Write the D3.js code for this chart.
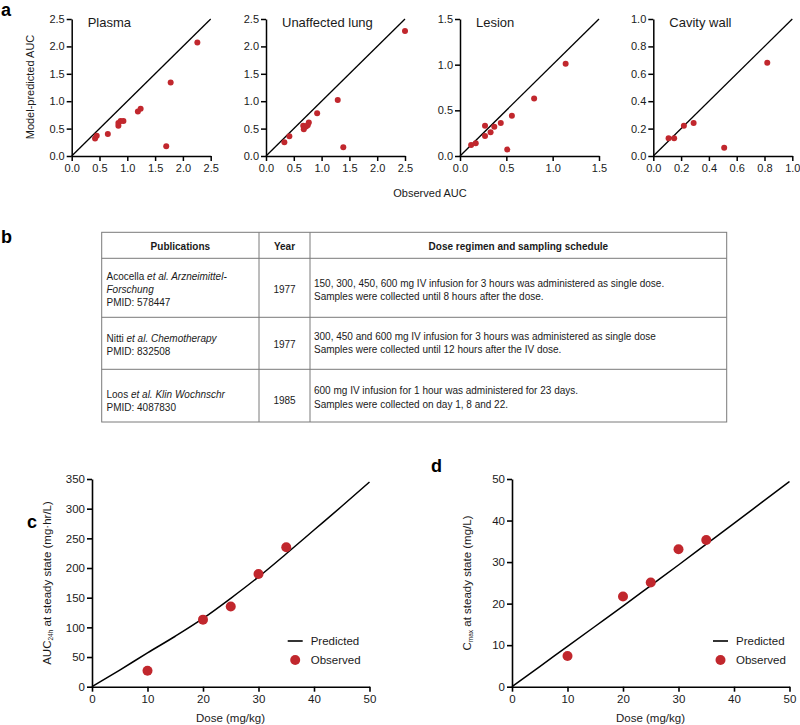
<!DOCTYPE html>
<html><head><meta charset="utf-8">
<script src="https://cdn.jsdelivr.net/npm/d3@7/dist/d3.min.js"></script>
<style>
body{margin:0;background:#fff;}
svg{display:block;font-family:"Liberation Sans",Arial,sans-serif;}
</style></head>
<body>
<svg id="fig" width="800" height="725"></svg>
<script>
// ---------- DATA ----------
const aTitles = ["Plasma", "Unaffected lung", "Lesion", "Cavity wall"];
const aMax = [2.5, 2.5, 1.5, 1.0];
const aTicks = [[0,0.5,1,1.5,2,2.5],[0,0.5,1,1.5,2,2.5],[0,0.5,1,1.5],[0,0.2,0.4,0.6,0.8,1.0]];
const plasmaObs  = [0.42,0.45,0.65,0.84,0.84,0.88,0.93,1.19,1.24,1.78,2.26,1.70];
const plasmaPred = [0.32,0.37,0.40,0.55,0.60,0.64,0.64,0.81,0.86,1.34,2.07,0.18];
const lungObs  = [0.33,0.42,0.67,0.68,0.72,0.75,0.77,0.92,1.29,1.39,2.50];
const lungPred = [0.25,0.36,0.55,0.49,0.54,0.56,0.61,0.78,1.02,0.16,2.28];
const lesionObs  = [0.12,0.17,0.27,0.27,0.33,0.37,0.44,0.56,0.51,0.80,1.14];
const lesionPred = [0.12,0.14,0.33,0.22,0.26,0.32,0.36,0.44,0.07,0.63,1.01];
const cavityObs  = [0.11,0.15,0.22,0.29,0.51,0.82];
const cavityPred = [0.13,0.13,0.22,0.24,0.06,0.68];

const tableHeaders = ["Publications", "Year", "Dose regimen and sampling schedule"];
const tableYears = ["1977", "1977", "1985"];
const tablePubs = [
  [[["Acocella ", false], ["et al. Arzneimittel-", true]], [["Forschung", true]], [["PMID: 578447", false]]],
  [[["Nitti ", false], ["et al. Chemotherapy", true]], [["PMID: 832508", false]]],
  [[["Loos ", false], ["et al. Klin Wochnschr", true]], [["PMID: 4087830", false]]]
];
const tableDose = [
  ["150, 300, 450, 600 mg IV infusion for 3 hours was administered as single dose.", "Samples were collected until 8 hours after the dose."],
  ["300, 450 and 600 mg IV infusion for 3 hours was administered as single dose", "Samples were collected until 12 hours after the IV dose."],
  ["600 mg IV infusion for 1 hour was administered for 23 days.", "Samples were collected on day 1, 8 and 22."]
];

const doseObs = [10, 20, 25, 30, 35];
const aucObs = [27, 113, 135, 190, 235];
const cmaxObs = [7.4, 21.7, 25.1, 33.1, 35.3];
const dosePred = [0, 5, 10, 15, 20, 25, 30, 35, 40, 45, 50];
const aucPred = [0, 28, 57, 85, 115, 149, 185, 224, 264, 304, 345];
const cmaxPred = [0, 4.85, 9.7, 14.55, 19.4, 24.35, 29.3, 34.3, 39.3, 44.35, 49.4];
const doseTicks = [0, 10, 20, 30, 40, 50];
const aucTicks = [0, 50, 100, 150, 200, 250, 300, 350];
const cmaxTicks = [0, 10, 20, 30, 40, 50];

// ---------- DRAW ----------
const RED = "#c1272d";
const svg = d3.select("#fig");

function panelLabel(t, x, y) {
  svg.append("text").attr("x", x).attr("y", y).attr("font-size", 18).attr("font-weight", "bold").text(t);
}
function styleAxis(g, sw) {
  g.selectAll("path,line").attr("stroke", "#000").attr("stroke-width", sw);
  g.selectAll("text").attr("fill", "#1a1a1a").attr("font-size", 11).attr("font-family", "Liberation Sans, Arial, sans-serif");
}

// Panel a
panelLabel("a", 1, 16);
const aLeft = [71.7, 266, 460, 653.3];
const aW = 139, aTop = 19, aBot = 156;
const aObs = [plasmaObs, lungObs, lesionObs, cavityObs];
const aPred = [plasmaPred, lungPred, lesionPred, cavityPred];
aTitles.forEach((title, i) => {
  const x = d3.scaleLinear().domain([0, aMax[i]]).range([aLeft[i], aLeft[i] + aW]);
  const y = d3.scaleLinear().domain([0, aMax[i]]).range([aBot, aTop]);
  const gx = svg.append("g").attr("transform", `translate(0,${aBot})`)
    .call(d3.axisBottom(x).tickValues(aTicks[i]).tickFormat(d3.format(".1f")).tickSize(5).tickPadding(3).tickSizeOuter(0));
  styleAxis(gx, 1.5);
  const gy = svg.append("g").attr("transform", `translate(${aLeft[i]},0)`)
    .call(d3.axisLeft(y).tickValues(aTicks[i]).tickFormat(d3.format(".1f")).tickSize(5).tickPadding(2).tickSizeOuter(0));
  styleAxis(gy, 1.5);
  svg.append("line").attr("x1", x(0)).attr("y1", y(0)).attr("x2", x(aMax[i])).attr("y2", y(aMax[i]))
    .attr("stroke", "#000").attr("stroke-width", 1.3);
  svg.append("g").selectAll("circle").data(aObs[i]).join("circle")
    .attr("cx", d => x(d)).attr("cy", (d, j) => y(aPred[i][j])).attr("r", 3).attr("fill", RED);
  svg.append("text").attr("x", aLeft[i] + 16).attr("y", 27).attr("font-size", 13).attr("fill", "#1a1a1a").text(title);
});
svg.append("text").attr("transform", "translate(34,87) rotate(-90)").attr("text-anchor", "middle")
  .attr("font-size", 11).attr("fill", "#1a1a1a").text("Model-predicted AUC");
svg.append("text").attr("x", 430).attr("y", 197).attr("text-anchor", "middle")
  .attr("font-size", 11).attr("fill", "#1a1a1a").text("Observed AUC");

// Panel b: table
panelLabel("b", 1, 243);
const tL = 101.7, tR = 726.7, tT = 232.3, tB = 422;
const colX = [tL, 259, 310, tR];
const rowY = [tT, 258.3, 317.3, 369.3, tB];
const tg = svg.append("g");
tg.append("rect").attr("x", tL).attr("y", tT).attr("width", tR - tL).attr("height", tB - tT)
  .attr("fill", "none").attr("stroke", "#7a7a7a").attr("stroke-width", 1);
colX.slice(1, 3).forEach(cx => tg.append("line").attr("x1", cx).attr("x2", cx).attr("y1", tT).attr("y2", tB).attr("stroke", "#7a7a7a"));
rowY.slice(1, 4).forEach(ry => tg.append("line").attr("x1", tL).attr("x2", tR).attr("y1", ry).attr("y2", ry).attr("stroke", "#7a7a7a"));
tableHeaders.forEach((h, i) => {
  tg.append("text").attr("x", (colX[i] + colX[i + 1]) / 2).attr("y", 250).attr("text-anchor", "middle")
    .attr("font-size", 10).attr("font-weight", "bold").attr("fill", "#1a1a1a").text(h);
});
const pubBase = [[279.5, 292.8, 306], [342, 355.3], [397.8, 411.1]];
const yearBase = [292.6, 348, 403.6];
const doseBase = [[287, 299.6], [340.4, 353], [394.4, 408.3]];
tablePubs.forEach((lines, r) => {
  lines.forEach((parts, k) => {
    const t = tg.append("text").attr("x", 106.5).attr("y", pubBase[r][k]).attr("font-size", 10).attr("fill", "#1a1a1a");
    parts.forEach(p => t.append("tspan").attr("font-style", p[1] ? "italic" : "normal").text(p[0]));
  });
  tg.append("text").attr("x", (colX[1] + colX[2]) / 2).attr("y", yearBase[r]).attr("text-anchor", "middle")
    .attr("font-size", 10).attr("fill", "#1a1a1a").text(tableYears[r]);
  tableDose[r].forEach((s, k) => {
    tg.append("text").attr("x", 314).attr("y", doseBase[r][k]).attr("font-size", 10).attr("fill", "#1a1a1a").text(s);
  });
});

// Panels c and d
function dosePanel(left, yTicksV, yMax, obs, pred, ylabParts, legX) {
  const x = d3.scaleLinear().domain([0, 50]).range([left, left + 277.5]);
  const y = d3.scaleLinear().domain([0, yMax]).range([686.7, 479]);
  const gx = svg.append("g").attr("transform", "translate(0,686.7)")
    .call(d3.axisBottom(x).tickValues(doseTicks).tickSize(5).tickPadding(3).tickSizeOuter(0));
  styleAxis(gx, 1.6);
  gx.selectAll("text").attr("font-size", 11.5);
  const gy = svg.append("g").attr("transform", `translate(${left},0)`)
    .call(d3.axisLeft(y).tickValues(yTicksV).tickSize(5).tickPadding(2).tickSizeOuter(0));
  styleAxis(gy, 1.6);
  gy.selectAll("text").attr("font-size", 11.5);
  svg.append("path").datum(dosePred.map((d, i) => [d, pred[i]]))
    .attr("d", d3.line().x(d => x(d[0])).y(d => y(d[1])).curve(d3.curveMonotoneX))
    .attr("fill", "none").attr("stroke", "#000").attr("stroke-width", 1.5);
  svg.append("g").selectAll("circle").data(doseObs).join("circle")
    .attr("cx", d => x(d)).attr("cy", (d, i) => y(obs[i])).attr("r", 5).attr("fill", RED);
  svg.append("text").attr("x", left + 138.5).attr("y", 721.5).attr("text-anchor", "middle")
    .attr("font-size", 11.5).attr("fill", "#1a1a1a").text("Dose (mg/kg)");
  const yl = svg.append("text").attr("transform", `translate(${left - 41},583) rotate(-90)`).attr("text-anchor", "middle")
    .attr("font-size", 11.5).attr("fill", "#1a1a1a");
  yl.append("tspan").text(ylabParts[0]);
  yl.append("tspan").attr("font-size", 6.5).attr("dy", 2).text(ylabParts[1]);
  yl.append("tspan").attr("dy", -2).text(ylabParts[2]);
  // legend
  svg.append("line").attr("x1", legX).attr("x2", legX + 15).attr("y1", 641).attr("y2", 641).attr("stroke", "#000").attr("stroke-width", 1.6);
  svg.append("text").attr("x", legX + 23).attr("y", 645).attr("font-size", 11.5).attr("fill", "#1a1a1a").text("Predicted");
  svg.append("circle").attr("cx", legX + 7.5).attr("cy", 660).attr("r", 5).attr("fill", RED);
  svg.append("text").attr("x", legX + 23).attr("y", 664).attr("font-size", 11.5).attr("fill", "#1a1a1a").text("Observed");
}
panelLabel("c", 27, 528);
dosePanel(92, aucTicks, 350, aucObs, aucPred, ["AUC", "24h", " at steady state (mg·hr/L)"], 287.7);
panelLabel("d", 431, 472);
dosePanel(512, cmaxTicks, 50, cmaxObs, cmaxPred, ["C", "max", " at steady state (mg/L)"], 713);
</script>
</body></html>
